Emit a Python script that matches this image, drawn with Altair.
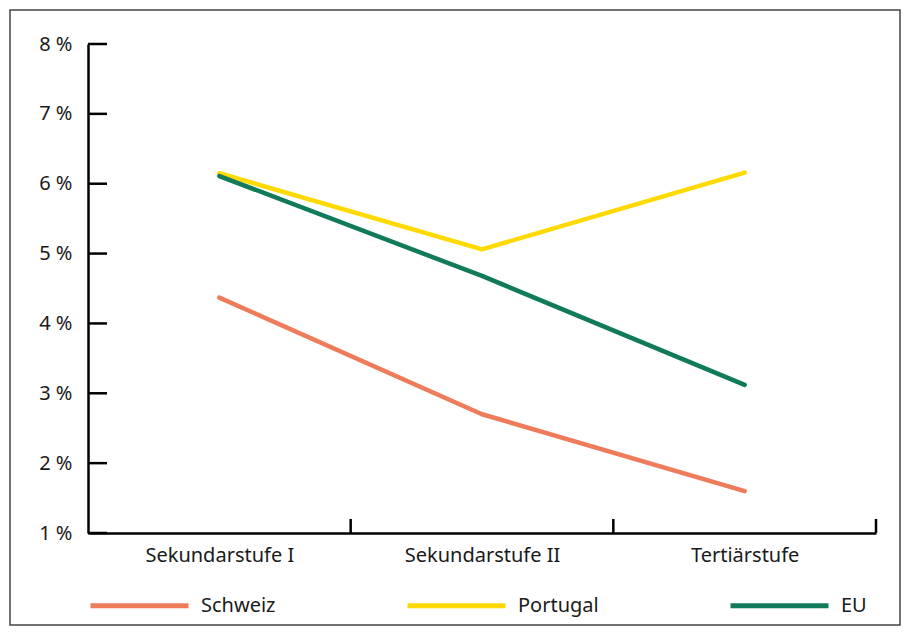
import altair as alt
import pandas as pd

stufen = ["Sekundarstufe I", "Sekundarstufe II", "Tertiärstufe"]
laender = ["Schweiz", "Portugal", "EU"]
schweiz = [4.37, 2.70, 1.60]
portugal = [6.15, 5.06, 6.16]
eu = [6.11, 4.68, 3.12]
farben = ["#EE7C5B", "#FFDA00", "#117A5B"]
y_ticks = [1, 2, 3, 4, 5, 6, 7, 8]
grenzen = [1, 2, 3]

rows = []
for land, vals in zip(laender, [schweiz, portugal, eu]):
    for s, v in zip(stufen, vals):
        rows.append({"Stufe": s, "Land": land, "Wert": v})
df = pd.DataFrame(rows)

W, H = 788, 489
FONT = "Noto Sans"
TXT = "#1a1a1a"
FS = 20

y_scale = alt.Scale(domain=[1, 8], nice=False, zero=False)
y_axis = alt.Axis(title=None, values=y_ticks, labelExpr="datum.value + ' %'",
                  grid=False, ticks=False, domainColor="black", domainWidth=2.5,
                  labelPadding=16, labelFontSize=FS, labelColor=TXT, labelFont=FONT)

lines = alt.Chart(df).mark_line(strokeWidth=4.5, strokeCap="round", strokeJoin="round").encode(
    x=alt.X("Stufe:N", sort=stufen,
            scale=alt.Scale(type="point", padding=0.5),
            axis=alt.Axis(title=None, labelAngle=0, ticks=False, domainColor="black",
                          domainWidth=2.5, labelFontSize=FS, labelPadding=12,
                          labelColor=TXT, labelFont=FONT)),
    y=alt.Y("Wert:Q", scale=y_scale, axis=y_axis),
    color=alt.Color("Land:N", sort=laender,
                    scale=alt.Scale(domain=laender, range=farben),
                    legend=alt.Legend(title=None, orient="none", legendX=0, legendY=510,
                                      direction="horizontal", columns=3,
                                      symbolType="stroke", symbolSize=9604,
                                      symbolStrokeWidth=5, labelFontSize=FS,
                                      labelOffset=10, labelFont=FONT, labelColor=TXT,
                                      columnPadding=121, gridAlign="each", labelLimit=300)),
    detail="Land:N",
)

yt = alt.Chart(pd.DataFrame({"Wert": y_ticks})).mark_rule(color="black", strokeWidth=2.5).encode(
    y=alt.Y("Wert:Q", scale=y_scale, axis=y_axis),
    x=alt.value(0), x2=alt.value(19),
)

xt = alt.Chart(pd.DataFrame({"g": grenzen})).mark_rule(color="black", strokeWidth=2.5).encode(
    x=alt.X("g:Q", scale=alt.Scale(domain=[0, 3], nice=False, zero=False), axis=None),
    y=alt.value(H), y2=alt.value(H - 14),
)

frame = alt.Chart(pd.DataFrame({"a": [0]})).mark_rect(
    filled=False, stroke="#444444", strokeWidth=1.5
).encode(
    x=alt.value(-78), x2=alt.value(812), y=alt.value(-34), y2=alt.value(581)
)

chart = alt.layer(frame, lines, yt, xt).resolve_scale(x="independent").properties(
    width=W, height=H, autosize="none",
    padding={"left": 80, "top": 36, "right": 26, "bottom": 94},
).configure_view(stroke=None)

chart.save("out.html", embed_options={"renderer": "svg", "actions": False})
